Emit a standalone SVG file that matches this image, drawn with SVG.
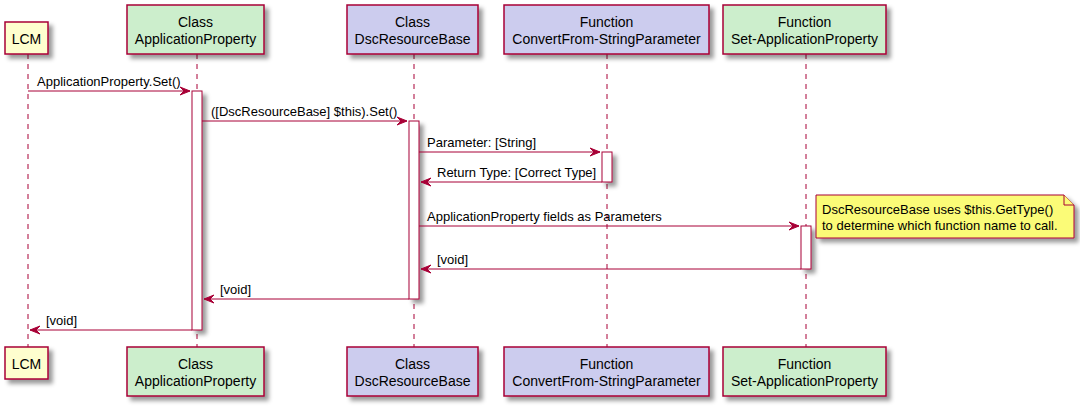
<svg xmlns="http://www.w3.org/2000/svg" width="1080" height="409" viewBox="0 0 1080 409">
<style>
text{font-family:"Liberation Sans",Arial,sans-serif;fill:#000}
.pt{font-size:14px;text-anchor:middle}
.msg{font-size:13px}
.life{stroke:#A80036;stroke-width:1;stroke-dasharray:5,5;fill:none}
.box{stroke:#A80036;stroke-width:1.5}
.yel{fill:#FEFECE}
.grn{fill:#CCEECC}
.blu{fill:#CCCCEE}
.act{fill:#FFFFFF;stroke:#A80036;stroke-width:1}
.ln{stroke:#A80036;stroke-width:1;fill:none}
.ah{fill:#A80036;stroke:#A80036;stroke-width:1}
.note{fill:#FBFB77;stroke:#A80036;stroke-width:1}
</style>
<defs>
<filter id="sh" x="-1" y="-1" width="300%" height="300%">
<feGaussianBlur stdDeviation="2" result="b"/>
<feColorMatrix in="b" type="matrix" values="0 0 0 0 0 0 0 0 0 0 0 0 0 0 0 0 0 0 .4 0" result="b2"/>
<feOffset in="b2" dx="4" dy="4" result="b3"/>
<feBlend in="SourceGraphic" in2="b3" mode="normal"/>
</filter>
</defs>
<rect width="1080" height="409" fill="#FFFFFF"/>
<g id="lifelines">
<line class="life" x1="28" y1="54" x2="28" y2="347"/>
<line class="life" x1="197" y1="54" x2="197" y2="347"/>
<line class="life" x1="414" y1="54" x2="414" y2="347"/>
<line class="life" x1="607" y1="54" x2="607" y2="347"/>
<line class="life" x1="806" y1="54" x2="806" y2="347"/>
</g>
<g id="activations">
<rect class="act" x="192" y="91" width="10" height="239" filter="url(#sh)"/>
<rect class="act" x="409" y="121" width="10" height="178" filter="url(#sh)"/>
<rect class="act" x="602" y="152" width="10" height="30" filter="url(#sh)"/>
<rect class="act" x="801" y="226" width="10" height="43" filter="url(#sh)"/>
</g>
<g id="node-lcm">
<rect class="box yel" x="5" y="22" width="43" height="32" filter="url(#sh)"/>
<text class="pt" x="26.5" y="44">LCM</text>
<rect class="box yel" x="5" y="347" width="43" height="32" filter="url(#sh)"/>
<text class="pt" x="26.5" y="369">LCM</text>
</g>
<g id="node-appprop">
<rect class="box grn" x="127" y="5" width="137" height="49" filter="url(#sh)"/>
<text class="pt" x="195.5" y="27">Class</text>
<text class="pt" x="195.5" y="44">ApplicationProperty</text>
<rect class="box grn" x="127" y="347" width="137" height="49" filter="url(#sh)"/>
<text class="pt" x="195.5" y="369">Class</text>
<text class="pt" x="195.5" y="386">ApplicationProperty</text>
</g>
<g id="node-dscbase">
<rect class="box blu" x="347" y="5" width="131" height="49" filter="url(#sh)"/>
<text class="pt" x="412.5" y="27">Class</text>
<text class="pt" x="412.5" y="44">DscResourceBase</text>
<rect class="box blu" x="347" y="347" width="131" height="49" filter="url(#sh)"/>
<text class="pt" x="412.5" y="369">Class</text>
<text class="pt" x="412.5" y="386">DscResourceBase</text>
</g>
<g id="node-convertfrom">
<rect class="box blu" x="504" y="5" width="205" height="49" filter="url(#sh)"/>
<text class="pt" x="606.5" y="27">Function</text>
<text class="pt" x="606.5" y="44">ConvertFrom-StringParameter</text>
<rect class="box blu" x="504" y="347" width="205" height="49" filter="url(#sh)"/>
<text class="pt" x="606.5" y="369">Function</text>
<text class="pt" x="606.5" y="386">ConvertFrom-StringParameter</text>
</g>
<g id="node-setappprop">
<rect class="box grn" x="723" y="5" width="163" height="49" filter="url(#sh)"/>
<text class="pt" x="804.5" y="27">Function</text>
<text class="pt" x="804.5" y="44">Set-ApplicationProperty</text>
<rect class="box grn" x="723" y="347" width="163" height="49" filter="url(#sh)"/>
<text class="pt" x="804.5" y="369">Function</text>
<text class="pt" x="804.5" y="386">Set-ApplicationProperty</text>
</g>
<g id="connectors">
<line class="ln" x1="28" y1="91" x2="190" y2="91"/>
<polygon class="ah" points="180,87 190,91 180,95 184,91"/>
<text class="msg" x="37" y="86">ApplicationProperty.Set()</text>

<line class="ln" x1="202" y1="121" x2="407" y2="121"/>
<polygon class="ah" points="397,117 407,121 397,125 401,121"/>
<text class="msg" x="211" y="116">([DscResourceBase] $this).Set()</text>

<line class="ln" x1="419" y1="152" x2="600" y2="152"/>
<polygon class="ah" points="590,148 600,152 590,156 594,152"/>
<text class="msg" x="427" y="147">Parameter: [String]</text>

<line class="ln" x1="421" y1="182" x2="602" y2="182"/>
<polygon class="ah" points="431,178 421,182 431,186 427,182"/>
<text class="msg" x="437" y="177">Return Type: [Correct Type]</text>

<line class="ln" x1="419" y1="226" x2="799" y2="226"/>
<polygon class="ah" points="789,222 799,226 789,230 793,226"/>
<text class="msg" x="427" y="221">ApplicationProperty fields as Parameters</text>

<line class="ln" x1="421" y1="269" x2="801" y2="269"/>
<polygon class="ah" points="431,265 421,269 431,273 427,269"/>
<text class="msg" x="437" y="264">[void]</text>

<line class="ln" x1="204" y1="299" x2="409" y2="299"/>
<polygon class="ah" points="214,295 204,299 214,303 210,299"/>
<text class="msg" x="220" y="294">[void]</text>

<line class="ln" x1="30" y1="330" x2="192" y2="330"/>
<polygon class="ah" points="40,326 30,330 40,334 36,330"/>
<text class="msg" x="46" y="325">[void]</text>
</g>
<g id="note">
<polygon class="note" points="816,195 1064,195 1074,205 1074,238 816,238" filter="url(#sh)"/>
<path class="note" d="M1064,195 L1064,205 L1074,205"/>
<text class="msg" x="822" y="214">DscResourceBase uses $this.GetType()</text>
<text class="msg" x="822" y="230">to determine which function name to call.</text>
</g>
</svg>
